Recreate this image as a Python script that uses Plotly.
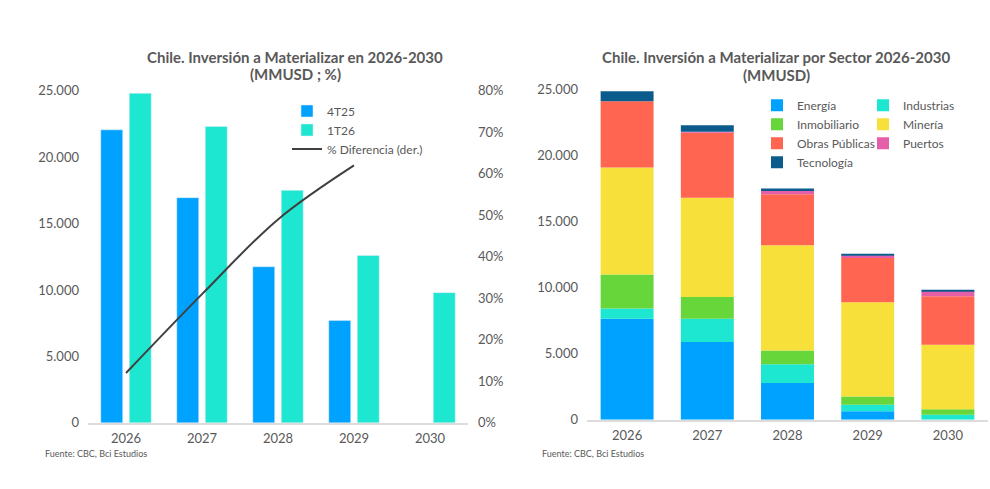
import plotly.graph_objects as go

# ---------------- data ----------------
years = ["2026", "2027", "2028", "2029", "2030"]
inv_4t25 = [22050, 16950, 11750, 7700, None]
inv_1t26 = [24800, 22300, 17500, 12600, 9800]
diff_years = ["2026", "2027", "2028", "2029"]
pct_diff = [0.12, 0.31, 0.49, 0.62]

sector_names = ["Energía", "Industrias", "Inmobiliario", "Minería",
                "Obras Públicas", "Puertos", "Tecnología"]
energia = [7650, 5900, 2800, 650, 0]
industrias = [780, 1760, 1420, 490, 380]
inmobiliario = [2580, 1645, 1040, 630, 430]
mineria = [8095, 7510, 7970, 7130, 4880]
obras_publicas = [5010, 4930, 3845, 3360, 3670]
puertos = [0, 60, 250, 200, 400]
tecnologia = [760, 500, 200, 100, 40]

y_ticks = [0, 5000, 10000, 15000, 20000, 25000]
y_ticktext = ["0", "5.000", "10.000", "15.000", "20.000", "25.000"]
pct_ticks = [0, 0.1, 0.2, 0.3, 0.4, 0.5, 0.6, 0.7, 0.8]

# ---------------- style ----------------
W, H = 990, 489
PLOT_TOP, PLOT_H = 9, 472   # measured extent of the paper area in the page
FONT = "Lato"
GREY = "#595959"
BLUE = "#00A2FF"
TEAL = "#1DE6D1"
sector_colors = ["#00A2FF", "#1DE6D1", "#66D63A", "#F8E03A",
                 "#FF6550", "#E45FA8", "#0B5C8C"]
sector_values = [energia, industrias, inmobiliario, mineria,
                 obras_publicas, puertos, tecnologia]
sector_legend = ["legend2", "legend3", "legend2", "legend3",
                 "legend2", "legend3", "legend2"]


def px(x):
    return x / W


def py(y):
    return 1 - (y - PLOT_TOP) / PLOT_H


fig = go.Figure()

# left chart
fig.add_trace(go.Bar(x=years, y=inv_4t25, name="4T25", marker_color=BLUE,
                     xaxis="x", yaxis="y", legend="legend"))
fig.add_trace(go.Bar(x=years, y=inv_1t26, name="1T26", marker_color=TEAL,
                     xaxis="x", yaxis="y", legend="legend"))
fig.add_trace(go.Scatter(x=diff_years, y=pct_diff, name="% Diferencia (der.)",
                         mode="lines", line=dict(color="#404040", width=2, shape="spline"),
                         xaxis="x", yaxis="y2", legend="legend"))

# right chart (stacked via cumulative base)
cum = [0] * len(years)
for name, vals, col, lg in zip(sector_names, sector_values, sector_colors, sector_legend):
    fig.add_trace(go.Bar(x=years, y=vals, base=list(cum), name=name,
                         marker_color=col, marker_line_width=0,
                         offsetgroup="sect", width=0.66,
                         xaxis="x2", yaxis="y3", legend=lg))
    cum = [c + v for c, v in zip(cum, vals)]

tickfont = dict(family=FONT, size=13, color=GREY)
legfont = dict(family=FONT, size=12, color=GREY)

fig.update_layout(
    width=W, height=H,
    margin=dict(l=0, r=0, t=0, b=0),
    paper_bgcolor="white", plot_bgcolor="white",
    font=dict(family=FONT, color=GREY),
    barmode="group", bargap=0.25, bargroupgap=0.23,
    xaxis=dict(domain=[px(88), px(468)], anchor="y", type="category",
               showline=True, linecolor="#DCDCDC", linewidth=1.5,
               showgrid=False, ticks="", tickfont=tickfont, ticklabelstandoff=3),
    yaxis=dict(domain=[py(423), py(91.5)], anchor="x", range=[0, 25000],
               tickvals=y_ticks, ticktext=y_ticktext, showgrid=False,
               zeroline=False, showline=False, ticks="", tickfont=tickfont,
               ticklabelstandoff=8),
    yaxis2=dict(domain=[py(423), py(91.5)], anchor="x", overlaying="y", side="right",
                range=[0, 0.8], tickvals=pct_ticks, tickformat=".0%", showgrid=False,
                zeroline=False, showline=False, ticks="", tickfont=tickfont,
                ticklabelstandoff=9),
    xaxis2=dict(domain=[px(587), px(988)], anchor="y3", type="category",
                showline=True, linecolor="#DCDCDC", linewidth=1.5,
                showgrid=False, ticks="", tickfont=tickfont, ticklabelstandoff=3),
    yaxis3=dict(domain=[py(420), py(90.5)], anchor="x2", range=[0, 25000],
                tickvals=y_ticks, ticktext=y_ticktext, showgrid=False,
                zeroline=False, showline=False, ticks="", tickfont=tickfont,
                ticklabelstandoff=8),
    legend=dict(x=px(287), y=py(97.3), xanchor="left", yanchor="top",
                bgcolor="rgba(0,0,0,0)", font=legfont, traceorder="normal"),
    legend2=dict(x=px(757), y=py(91.6), xanchor="left", yanchor="top",
                 bgcolor="rgba(0,0,0,0)", font=legfont, traceorder="normal"),
    legend3=dict(x=px(863), y=py(91.6), xanchor="left", yanchor="top",
                 bgcolor="rgba(0,0,0,0)", font=legfont, traceorder="normal"),
    showlegend=True,
)

title_font = dict(family=FONT, size=15, color=GREY)
titles = [
    (295, 58, "<b>Chile. Inversión a Materializar en 2026-2030</b>"),
    (295, 75, "<b>(MMUSD ; %)</b>"),
    (776, 58, "<b>Chile. Inversión a Materializar por Sector 2026-2030</b>"),
    (776, 76, "<b>(MMUSD)</b>"),
]
for tx, ty, txt in titles:
    fig.add_annotation(x=px(tx), y=py(ty), xref="paper", yref="paper", text=txt,
                       showarrow=False, xanchor="center", yanchor="middle",
                       font=title_font)

src_font = dict(family=FONT, size=9, color=GREY)
for sx in (43, 540):
    fig.add_annotation(x=px(sx), y=py(454), xref="paper", yref="paper",
                       text="Fuente: CBC, Bci Estudios", showarrow=False,
                       xanchor="left", yanchor="middle", font=src_font)

fig.write_html("out.html")
